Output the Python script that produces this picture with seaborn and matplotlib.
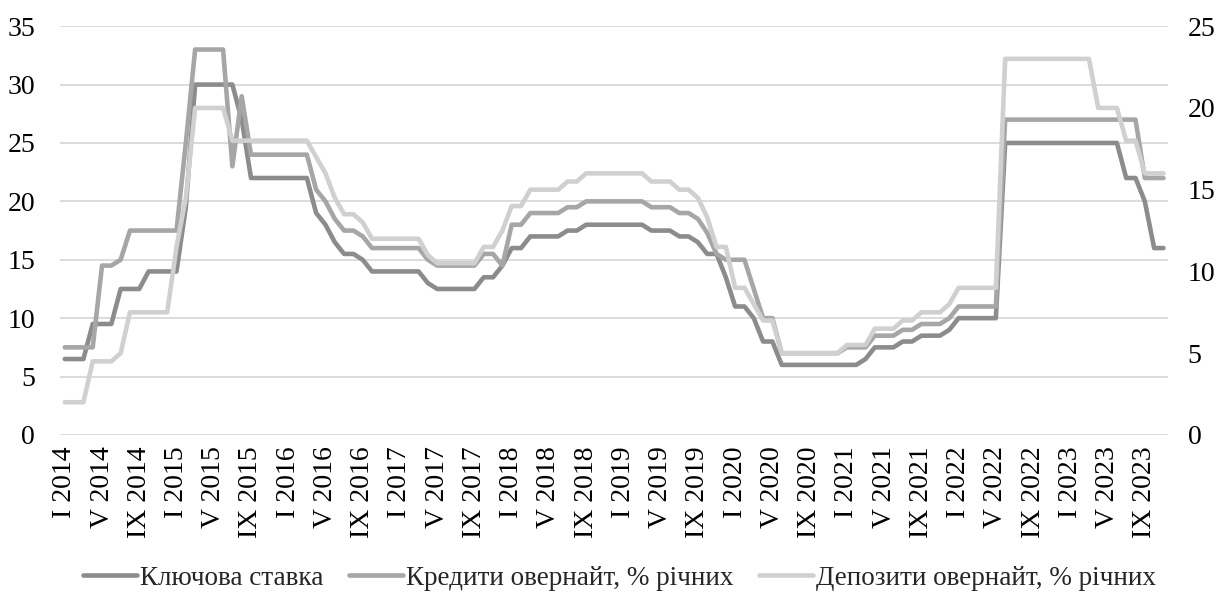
import numpy as np
import pandas as pd
import matplotlib
matplotlib.use("Agg")
import matplotlib.pyplot as plt
import seaborn as sns

# monthly values, I 2014 .. XI 2023
key_rate = [
    6.5, 6.5, 6.5, 9.5, 9.5, 9.5, 12.5, 12.5, 12.5, 14, 14, 14,
    14, 19.5, 30, 30, 30, 30, 30, 27, 22, 22, 22, 22,
    22, 22, 22, 19, 18, 16.5, 15.5, 15.5, 15, 14, 14, 14,
    14, 14, 14, 13, 12.5, 12.5, 12.5, 12.5, 12.5, 13.5, 13.5, 14.5,
    16, 16, 17, 17, 17, 17, 17.5, 17.5, 18, 18, 18, 18,
    18, 18, 18, 17.5, 17.5, 17.5, 17, 17, 16.5, 15.5, 15.5, 13.5,
    11, 11, 10, 8, 8, 6, 6, 6, 6, 6, 6, 6,
    6, 6, 6.5, 7.5, 7.5, 7.5, 8, 8, 8.5, 8.5, 8.5, 9,
    10, 10, 10, 10, 10, 25, 25, 25, 25, 25, 25, 25,
    25, 25, 25, 25, 25, 25, 22, 22, 20, 16, 16,
]
credit_overnight = [
    7.5, 7.5, 7.5, 7.5, 14.5, 14.5, 15, 17.5, 17.5, 17.5, 17.5, 17.5,
    17.5, 25, 33, 33, 33, 33, 23, 29, 24, 24, 24, 24,
    24, 24, 24, 21, 20, 18.5, 17.5, 17.5, 17, 16, 16, 16,
    16, 16, 16, 15, 14.5, 14.5, 14.5, 14.5, 14.5, 15.5, 15.5, 14.5,
    18, 18, 19, 19, 19, 19, 19.5, 19.5, 20, 20, 20, 20,
    20, 20, 20, 19.5, 19.5, 19.5, 19, 19, 18.5, 17.3, 15.5, 15,
    15, 15, 12.5, 10, 10, 7, 7, 7, 7, 7, 7, 7,
    7.5, 7.5, 7.5, 8.5, 8.5, 8.5, 9, 9, 9.5, 9.5, 9.5, 10,
    11, 11, 11, 11, 11, 27, 27, 27, 27, 27, 27, 27,
    27, 27, 27, 27, 27, 27, 27, 27, 22, 22, 22,
]
# права вісь
deposit_overnight = [
    2, 2, 2, 4.5, 4.5, 4.5, 5, 7.5, 7.5, 7.5, 7.5, 7.5,
    11.5, 14.5, 20, 20, 20, 20, 18, 18, 18, 18, 18, 18,
    18, 18, 18, 17, 16, 14.5, 13.5, 13.5, 13, 12, 12, 12,
    12, 12, 12, 11, 10.5, 10.5, 10.5, 10.5, 10.5, 11.5, 11.5, 12.5,
    14, 14, 15, 15, 15, 15, 15.5, 15.5, 16, 16, 16, 16,
    16, 16, 16, 15.5, 15.5, 15.5, 15, 15, 14.5, 13.3, 11.5, 11.5,
    9, 9, 8, 7, 7, 5, 5, 5, 5, 5, 5, 5,
    5.5, 5.5, 5.5, 6.5, 6.5, 6.5, 7, 7, 7.5, 7.5, 7.5, 8,
    9, 9, 9, 9, 9, 23, 23, 23, 23, 23, 23, 23,
    23, 23, 23, 20, 20, 20, 18, 18, 16, 16, 16,
]
tick_labels = [
    "I 2014", "V 2014", "IX 2014", "I 2015", "V 2015", "IX 2015",
    "I 2016", "V 2016", "IX 2016", "I 2017", "V 2017", "IX 2017",
    "I 2018", "V 2018", "IX 2018", "I 2019", "V 2019", "IX 2019",
    "I 2020", "V 2020", "IX 2020", "I 2021", "V 2021", "IX 2021",
    "I 2022", "V 2022", "IX 2022", "I 2023", "V 2023", "IX 2023",
]
series_names = ["Ключова ставка", "Кредити овернайт, % річних", "Депозити овернайт, % річних"]
colors = ["#8c8c8c", "#a6a6a6", "#d0d0d0"]

df = pd.DataFrame({
    "month": np.arange(len(key_rate)),
    "key": key_rate,
    "credit": credit_overnight,
    "deposit": deposit_overnight,
})

sns.set_style("white")
plt.rcParams["font.family"] = "serif"
plt.rcParams["font.serif"] = ["Liberation Serif", "DejaVu Serif"]
fs = 20

fig, ax = plt.subplots(figsize=(12.27, 5.95), dpi=100)
fig.subplots_adjust(left=0.049, right=0.952, bottom=0.269, top=0.956)
ax2 = ax.twinx()

lw = 3.3
sns.lineplot(data=df, x="month", y="key", ax=ax, color=colors[0], linewidth=lw,
             solid_joinstyle="round", legend=False)
sns.lineplot(data=df, x="month", y="credit", ax=ax, color=colors[1], linewidth=lw,
             solid_joinstyle="round", legend=False)
sns.lineplot(data=df, x="month", y="deposit", ax=ax2, color=colors[2], linewidth=lw,
             solid_joinstyle="round", legend=False)

ax.set_xlim(-0.5, len(key_rate) - 0.5)
ax.set_ylim(0, 35)
ax2.set_ylim(0, 25)
ax.set_yticks(range(0, 36, 5))
ax2.set_yticks(range(0, 26, 5))
ax.set_xticks(range(0, len(key_rate), 4))
ax.set_xticklabels(tick_labels, rotation=90)

ax.yaxis.grid(True, color="#d9d9d9", linewidth=1.3)
ax.set_axisbelow(True)
for a in (ax, ax2):
    a.set_xlabel("")
    a.set_ylabel("")
    for s in a.spines.values():
        s.set_visible(False)
    a.tick_params(length=0, labelsize=fs, colors="black")
ax.tick_params(axis="y", pad=18)
ax.tick_params(axis="x", pad=8)
ax2.tick_params(axis="y", pad=14)

handles = ax.get_lines()[:2] + ax2.get_lines()[:1]
fig.legend(handles, series_names, loc="center", bbox_to_anchor=(0.505, 0.028), ncol=3,
           frameon=False, fontsize=19.5, handlelength=2.0, handletextpad=0.1,
           columnspacing=0.95)

plt.savefig("out.png", dpi=100)
plt.close()
